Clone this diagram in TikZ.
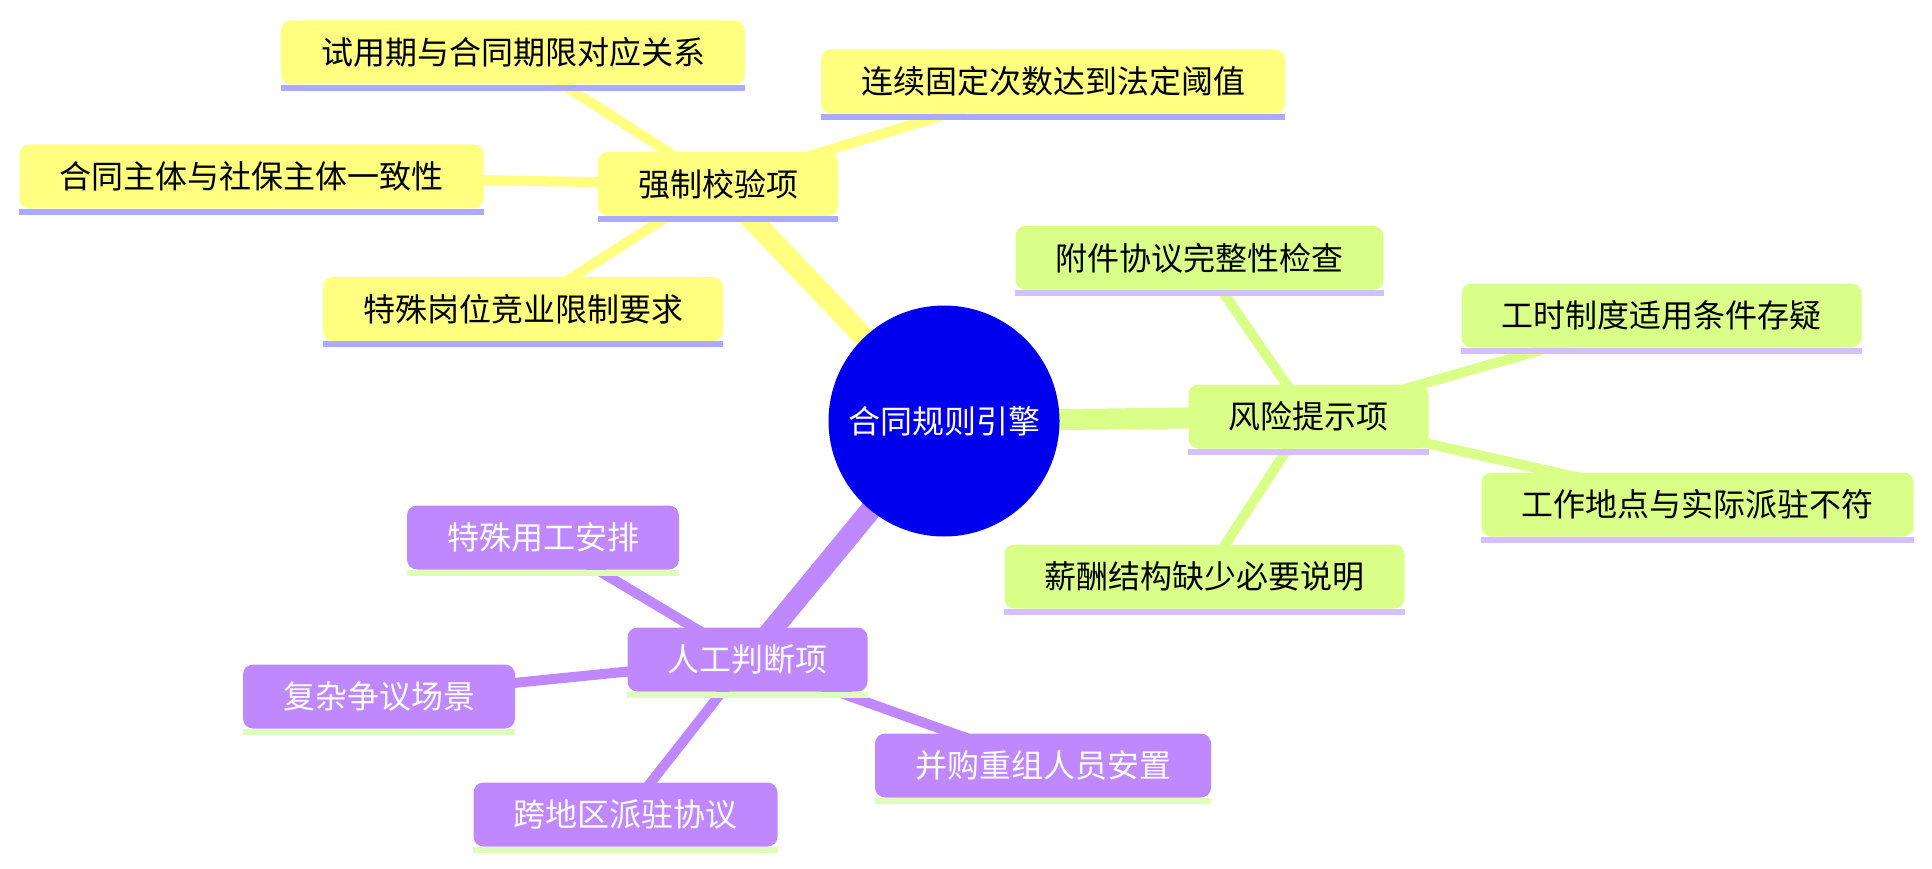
\documentclass[tikz,border=0pt]{standalone}
\usepackage{fontspec}
\setmainfont{Noto Sans CJK SC}
\definecolor{yfill}{RGB}{255,255,128}
\definecolor{yline}{RGB}{170,170,255}
\definecolor{gfill}{RGB}{217,255,137}
\definecolor{gline}{RGB}{212,192,255}
\definecolor{pfill}{RGB}{192,136,255}
\definecolor{pline}{RGB}{221,255,187}
\definecolor{cblue}{RGB}{0,0,238}
\pgfdeclarelayer{bg}
\pgfsetlayers{bg,main}
\newcommand\myul[2]{\fill[#2] (#1.south west) rectangle ([yshift=-6pt]#1.south east);}
\tikzset{
  box/.style={rounded corners=10pt, inner xsep=40pt, inner ysep=0pt, minimum height=64pt,
    font=\fontsize{32}{38}\selectfont},
  ybox/.style={box, fill=yfill, text=black},
  gbox/.style={box, fill=gfill, text=black},
  pbox/.style={box, fill=pfill, text=white},
  mainedge/.style={line width=21pt},
  subedge/.style={line width=10pt},
}
\begin{document}
\begin{tikzpicture}[x=1pt,y=-1pt]
\useasboundingbox (0,0) rectangle (1932,869);
% central
\node[circle, fill=cblue, text=white, minimum size=231pt, inner sep=0pt,
  font=\fontsize{32}{38}\selectfont] (C) at (944,421) {合同规则引擎};
% yellow branch
\node[ybox] (Y0) at (718,184) {强制校验项};
\node[ybox] (Y1) at (513,52.5) {试用期与合同期限对应关系};
\node[ybox] (Y2) at (1053,81.5) {连续固定次数达到法定阈值};
\node[ybox] (Y3) at (251.5,176.5) {合同主体与社保主体一致性};
\node[ybox] (Y4) at (523,309) {特殊岗位竞业限制要求};
% green branch
\node[gbox] (G0) at (1308.5,416.5) {风险提示项};
\node[gbox] (G1) at (1199.5,258) {附件协议完整性检查};
\node[gbox] (G2) at (1661.5,315.5) {工时制度适用条件存疑};
\node[gbox] (G3) at (1697.5,504.5) {工作地点与实际派驻不符};
\node[gbox] (G4) at (1204.5,576.5) {薪酬结构缺少必要说明};
% purple branch
\node[pbox] (P0) at (747.5,659.5) {人工判断项};
\node[pbox] (P1) at (543,537.5) {特殊用工安排};
\node[pbox] (P2) at (379,696.5) {复杂争议场景};
\node[pbox] (P3) at (625.5,814.5) {跨地区派驻协议};
\node[pbox] (P4) at (1043,765.5) {并购重组人员安置};
% underlines
\foreach \n in {Y0,Y1,Y2,Y3,Y4} {\myul{\n}{yline}}
\foreach \n in {G0,G1,G2,G3,G4} {\myul{\n}{gline}}
\foreach \n in {P0,P1,P2,P3,P4} {\myul{\n}{pline}}
% edges
\begin{pgfonlayer}{bg}
\draw[mainedge, yfill] (C.center) -- (Y0.center);
\draw[mainedge, gfill] (C.center) -- (G0.center);
\draw[mainedge, pfill] (C.center) -- (P0.center);
\foreach \n in {Y1,Y2,Y3,Y4} {\draw[subedge, yfill] (Y0.center) -- (\n.center);}
\foreach \n in {G1,G2,G3,G4} {\draw[subedge, gfill] (G0.center) -- (\n.center);}
\foreach \n in {P1,P2,P3,P4} {\draw[subedge, pfill] (P0.center) -- (\n.center);}
\end{pgfonlayer}
\end{tikzpicture}
\end{document}
